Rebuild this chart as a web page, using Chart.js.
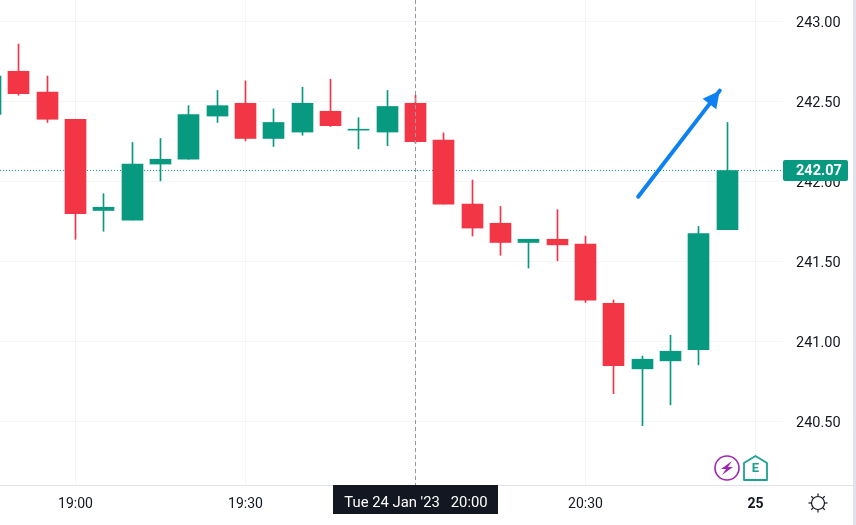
<!DOCTYPE html>
<html>
<head>
<meta charset="utf-8">
<style>
  html, body { margin: 0; padding: 0; background: #fff; overflow: hidden; }
  canvas { display: block; }
</style>
<script src="https://cdn.jsdelivr.net/npm/chart.js@4"></script>
</head>
<body>
<canvas id="priceChart" width="856" height="525"></canvas>
<script>
// 5 minute candles
const times = ["18:45","18:50","18:55","19:00","19:05","19:10","19:15","19:20","19:25","19:30","19:35","19:40","19:45","19:50","19:55","20:00","20:05","20:10","20:15","20:20","20:25","20:30","20:35","20:40","20:45","20:50","20:55"];
const opens = [242.42,242.69,242.56,242.39,241.82,241.76,242.11,242.14,242.41,242.49,242.27,242.31,242.44,242.322,242.31,242.49,242.26,241.86,241.74,241.62,241.64,241.61,241.24,240.83,240.88,240.95,241.70];
const closes = [242.66,242.55,242.39,241.80,241.84,242.11,242.14,242.42,242.475,242.27,242.37,242.49,242.35,242.328,242.47,242.25,241.86,241.71,241.62,241.64,241.605,241.26,240.85,240.89,240.94,241.675,242.07];
const highs = [242.66,242.86,242.66,242.39,241.925,242.245,242.27,242.475,242.57,242.63,242.455,242.59,242.64,242.40,242.57,242.54,242.305,242.01,241.845,241.64,241.825,241.66,241.26,240.91,241.04,241.72,242.37];
const lows = [242.42,242.54,242.37,241.64,241.69,241.76,242.005,242.14,242.37,242.255,242.22,242.29,242.345,242.205,242.225,242.24,241.86,241.66,241.54,241.46,241.505,241.245,240.675,240.475,240.605,240.855,241.70];

const yTicks = [240.5,241,241.5,242,242.5,243];
const xTicks = [0,30,60,90,120];
const xTickLabels = ["19:00","19:30","20:00","20:30","25"];

const lastPrice = 242.07;
const crosshairMinute = 60;
const crosshairLabel = "Tue 24 Jan '23   20:00";

// hand drawn arrow on the chart
const arrowMinutes = [99.3,113.7];
const arrowPrices = [241.906,242.569];

const RED = "#F23645";
const GREEN = "#089981";
const TEXT = "#131722";
const GRID = "#f3f5f9";
const FONT = "Roboto, sans-serif";

const xMin = -13.32;
const xMax = 124.86;
const yMin = 240.104;
const yMax = 243.1355;

function toMinutes(t) {
    const parts = t.split(":");
    return (parseInt(parts[0]) - 19) * 60 + parseInt(parts[1]);
}

const candleColors = opens.map((o, i) => closes[i] >= o ? GREEN : RED);
const bodies = times.map((t, i) => ({ x: toMinutes(t), y: [opens[i], closes[i]] }));
const wicks = times.map((t, i) => ({ x: toMinutes(t), y: [lows[i], highs[i]] }));

const overlays = {
    id: "overlays",
    // snap candles to whole pixels so the wicks stay 1px wide
    beforeDatasetsDraw(chart) {
        [1, 2].forEach((d) => {
            chart.getDatasetMeta(d).data.forEach((bar) => {
                bar.x = Math.floor(bar.x) + 0.5;
            });
        });
    },
    afterDatasetsDraw(chart) {
        const ctx = chart.ctx;
        const xs = chart.scales.x;
        const ys = chart.scales.y;
        const area = chart.chartArea;
        ctx.save();

        // crosshair
        const cx = Math.floor(xs.getPixelForValue(crosshairMinute)) + 0.5;
        ctx.strokeStyle = "#9598a1";
        ctx.lineWidth = 1;
        ctx.setLineDash([4, 3]);
        ctx.beginPath();
        ctx.moveTo(cx, area.top);
        ctx.lineTo(cx, area.bottom);
        ctx.stroke();
        ctx.setLineDash([]);

        // arrow head
        const ax0 = xs.getPixelForValue(arrowMinutes[0]);
        const ay0 = ys.getPixelForValue(arrowPrices[0]);
        const ax1 = xs.getPixelForValue(arrowMinutes[1]);
        const ay1 = ys.getPixelForValue(arrowPrices[1]);
        const ang = Math.atan2(ay1 - ay0, ax1 - ax0);
        ctx.fillStyle = "#0d80f2";
        ctx.beginPath();
        ctx.moveTo(ax1, ay1);
        ctx.lineTo(ax1 - 19 * Math.cos(ang - 0.47), ay1 - 19 * Math.sin(ang - 0.47));
        ctx.lineTo(ax1 - 19 * Math.cos(ang + 0.47), ay1 - 19 * Math.sin(ang + 0.47));
        ctx.closePath();
        ctx.fill();

        // last price tag
        const py = ys.getPixelForValue(lastPrice);
        ctx.fillStyle = GREEN;
        ctx.beginPath();
        ctx.roundRect(783, py - 10.5, 65, 21, 2);
        ctx.fill();
        ctx.fillStyle = "#fff";
        ctx.font = "bold 14.5px " + FONT;
        ctx.textAlign = "left";
        ctx.textBaseline = "middle";
        ctx.fillText(lastPrice.toFixed(2), 796, py + 0.5);

        // time tag under the crosshair
        ctx.fillStyle = TEXT;
        ctx.fillRect(333, area.bottom, 165, 29);
        ctx.fillStyle = "#fff";
        ctx.font = "14.8px " + FONT;
        ctx.textAlign = "center";
        ctx.fillText(crosshairLabel, 416, area.bottom + 18);

        // bottom border and right strip
        ctx.fillStyle = "#e0e3eb";
        ctx.fillRect(0, area.bottom, 333, 1);
        ctx.fillRect(498, area.bottom, 355, 1);
        ctx.fillRect(853, 0, 3, 525);

        // lightning badge
        ctx.strokeStyle = "#9c27b0";
        ctx.lineWidth = 1.6;
        ctx.beginPath();
        ctx.arc(727, 468, 12, 0, Math.PI * 2);
        ctx.stroke();
        ctx.fillStyle = "#9c27b0";
        ctx.beginPath();
        ctx.moveTo(732, 461);
        ctx.lineTo(721, 469);
        ctx.lineTo(726, 469);
        ctx.lineTo(722, 475);
        ctx.lineTo(733, 467);
        ctx.lineTo(728, 467);
        ctx.closePath();
        ctx.fill();

        // earnings badge
        ctx.strokeStyle = "#1aa38f";
        ctx.lineWidth = 1.8;
        ctx.lineJoin = "round";
        ctx.beginPath();
        ctx.moveTo(744, 463);
        ctx.lineTo(755.5, 456);
        ctx.lineTo(767, 463);
        ctx.lineTo(767, 480);
        ctx.lineTo(744, 480);
        ctx.closePath();
        ctx.stroke();
        ctx.fillStyle = "#1aa38f";
        ctx.font = "bold 13px " + FONT;
        ctx.fillText("E", 755.5, 469);

        // settings sun
        ctx.strokeStyle = TEXT;
        ctx.lineWidth = 1.2;
        ctx.beginPath();
        ctx.arc(818, 503, 6.5, 0, Math.PI * 2);
        ctx.stroke();
        for (let i = 0; i < 8; i++) {
            const a = i * Math.PI / 4;
            ctx.beginPath();
            ctx.moveTo(818 + 7 * Math.cos(a), 503 + 7 * Math.sin(a));
            ctx.lineTo(818 + 9.5 * Math.cos(a), 503 + 9.5 * Math.sin(a));
            ctx.stroke();
        }
        ctx.restore();
    }
};

new Chart(document.getElementById("priceChart"), {
    type: "bar",
    data: {
        datasets: [
            { type: "line", data: arrowMinutes.map((m, i) => ({ x: m, y: arrowPrices[i] })), borderColor: "#0d80f2", borderWidth: 4, borderCapStyle: "round", pointRadius: 0, order: 0 },
            { data: bodies, backgroundColor: candleColors, barThickness: 21, grouped: false, order: 1 },
            { data: wicks, backgroundColor: candleColors, barThickness: 1, grouped: false, order: 2 },
            { type: "line", data: [{ x: xMin, y: lastPrice }, { x: xMax, y: lastPrice }], borderColor: GREEN, borderWidth: 1, borderDash: [1, 2], pointRadius: 0, order: 3 }
        ]
    },
    options: {
        responsive: false,
        animation: false,
        layout: { padding: 0 },
        plugins: { legend: { display: false }, tooltip: { enabled: false } },
        scales: {
            x: {
                type: "linear",
                min: xMin,
                max: xMax,
                offset: false,
                afterBuildTicks: (axis) => { axis.ticks = xTicks.map(v => ({ value: v })); },
                afterFit: (axis) => { axis.height = 40; axis.paddingLeft = 0; axis.paddingRight = 0; },
                grid: { color: GRID, drawTicks: false, offset: false },
                border: { display: false },
                ticks: {
                    maxRotation: 0,
                    autoSkip: false,
                    padding: 11,
                    color: TEXT,
                    font: (c) => ({ family: FONT, size: 14, weight: c.index === 4 ? "bold" : "normal" }),
                    callback: (v) => xTickLabels[xTicks.indexOf(v)]
                }
            },
            y: {
                position: "right",
                min: yMin,
                max: yMax,
                afterBuildTicks: (axis) => { axis.ticks = yTicks.map(v => ({ value: v })); },
                // no extra room above the plot for the tick labels
                afterFit: (axis) => { axis.width = 73; axis.paddingTop = 0; axis.paddingBottom = 0; },
                grid: { color: GRID, drawTicks: false },
                border: { display: false },
                ticks: {
                    padding: 13,
                    labelOffset: 1.5,
                    color: TEXT,
                    font: { family: FONT, size: 14.5 },
                    callback: (v) => v.toFixed(2)
                }
            }
        }
    },
    plugins: [overlays]
});
</script>
</body>
</html>
